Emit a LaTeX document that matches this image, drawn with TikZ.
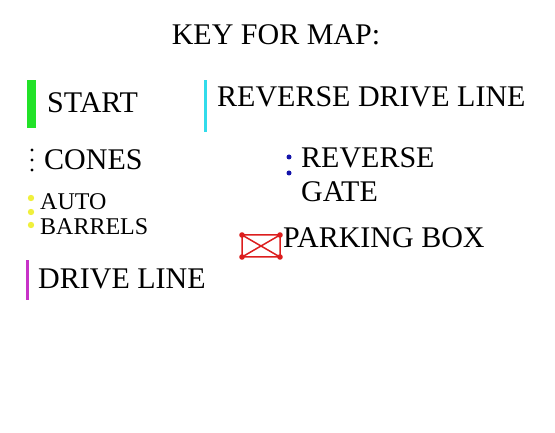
\documentclass[tikz,border=0pt]{standalone}
\usepackage{fontspec}
\setmainfont{Liberation Serif}
\begin{document}
\begin{tikzpicture}[x=1pt,y=-1pt,
  lbl/.style={anchor=base west,inner sep=0pt,font=\fontsize{30}{30}\selectfont},
  small/.style={anchor=base west,inner sep=0pt,font=\fontsize{24}{24}\selectfont},
  bigttl/.style={anchor=base,inner sep=0pt,font=\fontsize{30}{30}\selectfont}]
\definecolor{startgreen}{RGB}{34,226,40}
\definecolor{revcyan}{RGB}{50,220,235}
\definecolor{drivemag}{RGB}{200,50,200}
\definecolor{autoyel}{RGB}{240,240,60}
\definecolor{gateblue}{RGB}{20,20,170}
\definecolor{parkred}{RGB}{220,30,30}
\useasboundingbox (0,0) rectangle (555,433);
% title
\node[bigttl] (title) at (276,45) {KEY FOR MAP:};
% start
\fill[startgreen] (27,80) rectangle (36,128);
\node[lbl] (start) at (47,113) {START};
% cones
\foreach \y in {150,160,170} \fill[black] (32,\y) circle (1.6);
\node[lbl] (cones) at (44,170) {CONES};
% auto barrels
\foreach \y in {198,212,225} \fill[autoyel] (31,\y) circle (3.2);
\node[small] (auto) at (40,210) {AUTO};
\node[small] (barrels) at (40,235) {BARRELS};
% drive line
\fill[drivemag] (26,260) rectangle (29,300);
\node[lbl] (drive) at (38,288) {DRIVE LINE};
% reverse drive line
\fill[revcyan] (204,80) rectangle (207,132);
\node[lbl] (revdrive) at (217,107) {REVERSE DRIVE LINE};
% reverse gate
\foreach \y in {157,173} \fill[gateblue] (289,\y) circle (2.5);
\node[lbl] (rev) at (301,168) {REVERSE};
\node[lbl] (gate) at (301,202) {GATE};
% parking box
\draw[parkred,line width=1.5] (242,235) rectangle (280,257)
  (242,235) -- (280,257) (242,257) -- (280,235);
\foreach \p in {(242,235),(280,235),(242,257),(280,257)} \fill[parkred] \p circle (2.8);
\node[lbl] (park) at (283,248) {PARKING BOX};
\end{tikzpicture}
\end{document}
